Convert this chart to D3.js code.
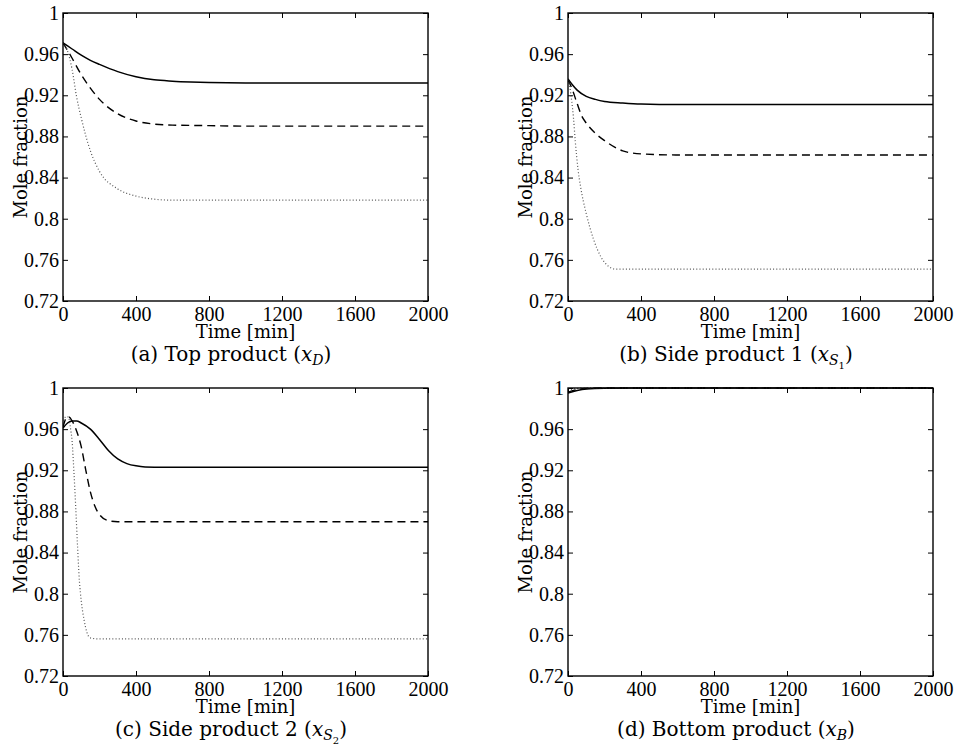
<!DOCTYPE html>
<html>
<head>
<meta charset="utf-8">
<title>Mole fraction vs time</title>
<script src="https://d3js.org/d3.v7.min.js"></script>
<style>
  body { margin: 0; background: #fff; }
  .tick text { font-family: "Liberation Serif", serif; font-size: 20px; fill: #000; }
  .lbl { font-family: "DejaVu Serif", serif; font-size: 18px; fill: #000; }
  .cap { font-family: "DejaVu Serif", serif; font-size: 20px; fill: #000; }
</style>
</head>
<body>
<div id="chart"></div>
<script>
  // [time (min), mole fraction]
  const topSolid  = [[0,0.971],[50,0.965],[100,0.959],[150,0.954],[200,0.950],[300,0.943],[400,0.938],[500,0.935],[600,0.9337],[700,0.9329],[800,0.9324],[1000,0.932],[2000,0.932]];
  const topDashed = [[0,0.971],[50,0.956],[100,0.940],[150,0.927],[200,0.916],[300,0.902],[400,0.895],[500,0.892],[600,0.891],[800,0.8905],[1000,0.890],[2000,0.890]];
  const topDotted = [[0,0.971],[25,0.963],[50,0.945],[75,0.918],[100,0.898],[150,0.866],[200,0.846],[300,0.829],[400,0.822],[500,0.819],[600,0.818],[2000,0.818]];

  const side1Solid  = [[0,0.936],[25,0.930],[50,0.925],[100,0.919],[150,0.916],[200,0.914],[300,0.9125],[400,0.9115],[600,0.911],[2000,0.911]];
  const side1Dashed = [[0,0.935],[25,0.925],[50,0.912],[75,0.900],[100,0.893],[150,0.883],[200,0.876],[300,0.866],[400,0.863],[600,0.862],[2000,0.862]];
  const side1Dotted = [[0,0.935],[10,0.928],[20,0.915],[30,0.898],[40,0.875],[55,0.848],[70,0.830],[100,0.805],[140,0.780],[180,0.763],[220,0.754],[260,0.751],[400,0.751],[2000,0.751]];

  const side2Solid  = [[0,0.961],[25,0.966],[50,0.968],[75,0.968],[100,0.966],[150,0.960],[200,0.950],[250,0.939],[300,0.931],[350,0.9265],[400,0.9243],[450,0.9233],[550,0.923],[2000,0.923]];
  const side2Dashed = [[0,0.962],[15,0.970],[30,0.972],[50,0.968],[75,0.958],[100,0.943],[125,0.920],[150,0.899],[175,0.885],[200,0.877],[250,0.871],[300,0.870],[2000,0.870]];
  const side2Dotted = [[0,0.965],[15,0.972],[30,0.972],[40,0.962],[50,0.948],[60,0.918],[70,0.883],[80,0.845],[90,0.812],[100,0.793],[115,0.775],[130,0.763],[150,0.757],[200,0.756],[2000,0.756]];

  const bottomSolid  = [[0,0.995],[50,0.9975],[100,0.999],[200,0.9998],[400,1.0],[2000,1.0]];
  const bottomDashed = [[0,0.996],[50,0.9985],[100,0.9995],[200,1.0],[2000,1.0]];
  const bottomDotted = [[0,0.997],[30,0.999],[100,1.0],[2000,1.0]];

  const xTicks = [0, 400, 800, 1200, 1600, 2000];
  const yTicks = [0.72, 0.76, 0.8, 0.84, 0.88, 0.92, 0.96, 1];

  const panels = [
    { left: 63,  top: 13,  letter: "a", name: "Top product", sub: "D",    subsub: null, series: [topSolid, topDashed, topDotted] },
    { left: 568, top: 13,  letter: "b", name: "Side product 1", sub: "S", subsub: "1",  series: [side1Solid, side1Dashed, side1Dotted] },
    { left: 63,  top: 388, letter: "c", name: "Side product 2", sub: "S", subsub: "2",  series: [side2Solid, side2Dashed, side2Dotted] },
    { left: 568, top: 388, letter: "d", name: "Bottom product", sub: "B", subsub: null, series: [bottomSolid, bottomDashed, bottomDotted] }
  ];

  const styles = [
    { stroke: "#000", width: 1.5, dash: null },
    { stroke: "#000", width: 1.4, dash: "8,5" },
    { stroke: "#555", width: 1.2, dash: "1,2.2" }
  ];

  const width = 955, height = 753;
  const pw = 365, ph = 288;

  const svg = d3.select("#chart").append("svg")
      .attr("width", width)
      .attr("height", height);

  const x = d3.scaleLinear().domain([0, 2000]).range([0, pw]);
  const y = d3.scaleLinear().domain([0.72, 1]).range([ph, 0]);

  const line = d3.line()
      .x(d => x(d[0]))
      .y(d => y(d[1]))
      .curve(d3.curveMonotoneX);

  panels.forEach(p => {
    const g = svg.append("g").attr("transform", `translate(${p.left},${p.top})`);

    g.append("defs").append("clipPath").attr("id", "clip-" + p.letter)
      .append("rect").attr("x", 0).attr("y", -2).attr("width", pw).attr("height", ph + 2);

    // curves
    const lines = g.append("g").attr("clip-path", `url(#clip-${p.letter})`);
    p.series.forEach((s, i) => {
      lines.append("path")
        .datum(s)
        .attr("d", line)
        .attr("fill", "none")
        .attr("stroke", styles[i].stroke)
        .attr("stroke-width", styles[i].width)
        .attr("stroke-dasharray", styles[i].dash);
    });

    // axes with inward ticks
    g.append("g")
      .attr("transform", `translate(0,${ph})`)
      .call(d3.axisBottom(x).tickValues(xTicks).tickSize(-5).tickPadding(6).tickFormat(d3.format("d")));
    g.append("g")
      .call(d3.axisTop(x).tickValues(xTicks).tickSize(-5).tickFormat(""));
    g.append("g")
      .call(d3.axisLeft(y).tickValues(yTicks).tickSize(-5).tickPadding(4).tickFormat(d => String(+d.toFixed(2))));
    g.append("g")
      .attr("transform", `translate(${pw},0)`)
      .call(d3.axisRight(y).tickValues(yTicks).tickSize(-5).tickFormat(""));

    g.selectAll(".domain").remove();
    g.selectAll(".tick line").attr("stroke", "#000").attr("stroke-width", 1);

    g.append("rect")
      .attr("width", pw).attr("height", ph)
      .attr("fill", "none").attr("stroke", "#000").attr("stroke-width", 1.4);

    // axis titles
    g.append("text").attr("class", "lbl")
      .attr("x", pw / 2).attr("y", ph + 37)
      .attr("text-anchor", "middle")
      .text("Time [min]");

    g.append("text").attr("class", "lbl")
      .attr("transform", `translate(-36,${ph / 2}) rotate(-90)`)
      .attr("text-anchor", "middle")
      .text("Mole fraction");

    // caption
    const cap = g.append("text").attr("class", "cap")
      .attr("x", 168).attr("y", ph + 60)
      .attr("text-anchor", "middle");
    cap.append("tspan").text(`(${p.letter}) ${p.name} (`);
    cap.append("tspan").attr("font-style", "italic").text("x");
    cap.append("tspan").attr("font-style", "italic").attr("font-size", "14px")
      .attr("baseline-shift", "-4").text(p.sub);
    if (p.subsub) {
      cap.append("tspan").attr("font-size", "10px").attr("baseline-shift", "-8").text(p.subsub);
    }
    cap.append("tspan").text(")");
  });
</script>
</body>
</html>
